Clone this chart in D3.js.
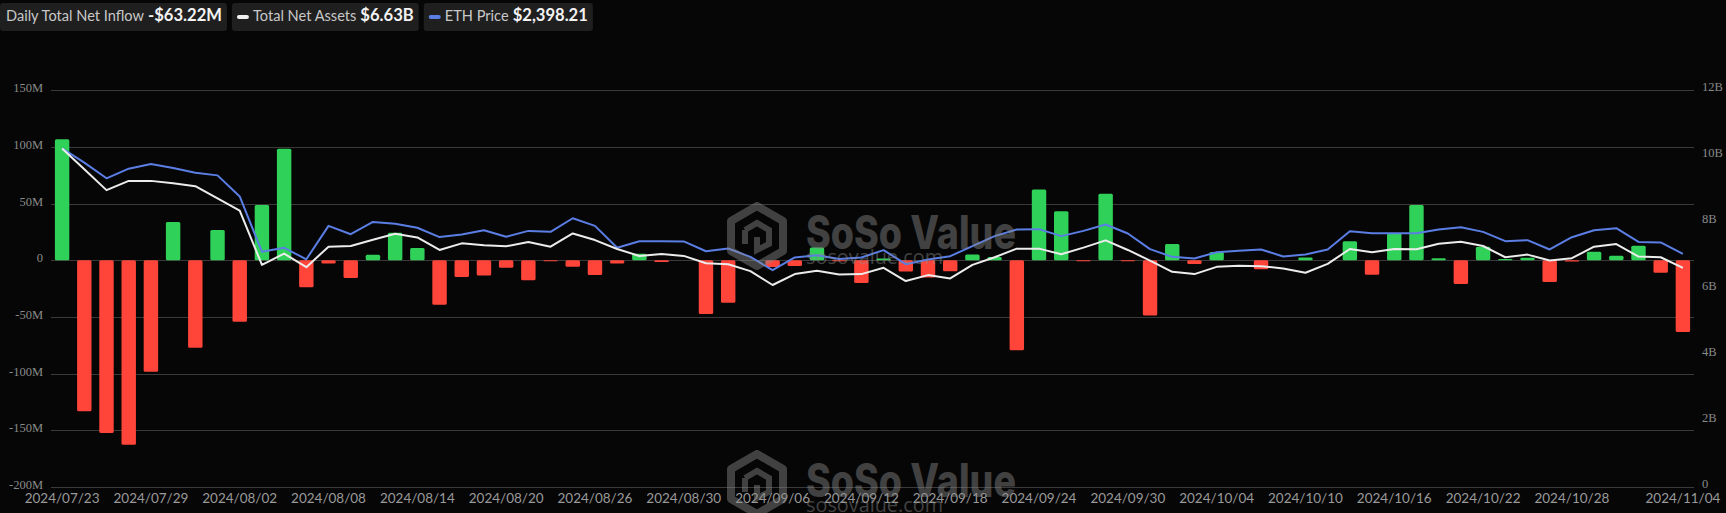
<!DOCTYPE html>
<html><head><meta charset="utf-8">
<script src="https://cdn.jsdelivr.net/npm/d3@7"></script>
<style>
html,body{margin:0;padding:0;background:#060606;}
svg{display:block;}
</style></head>
<body><svg id="chart" width="1726" height="513"></svg>
<script>
const dates = ["2024/07/23","2024/07/24","2024/07/25","2024/07/26","2024/07/29","2024/07/30","2024/07/31","2024/08/01","2024/08/02",
"2024/08/05","2024/08/06","2024/08/07","2024/08/08","2024/08/09",
"2024/08/12","2024/08/13","2024/08/14","2024/08/15","2024/08/16",
"2024/08/19","2024/08/20","2024/08/21","2024/08/22","2024/08/23",
"2024/08/26","2024/08/27","2024/08/28","2024/08/29","2024/08/30",
"2024/09/03","2024/09/04","2024/09/05","2024/09/06",
"2024/09/09","2024/09/10","2024/09/11","2024/09/12","2024/09/13",
"2024/09/16","2024/09/17","2024/09/18","2024/09/19","2024/09/20",
"2024/09/23","2024/09/24","2024/09/25","2024/09/26","2024/09/27",
"2024/09/30","2024/10/01","2024/10/02","2024/10/03","2024/10/04",
"2024/10/07","2024/10/08","2024/10/09","2024/10/10","2024/10/11",
"2024/10/14","2024/10/15","2024/10/16","2024/10/17","2024/10/18",
"2024/10/21","2024/10/22","2024/10/23","2024/10/24","2024/10/25",
"2024/10/28","2024/10/29","2024/10/30","2024/10/31","2024/11/01",
"2024/11/04"];

// Daily total net inflow, $M
const netInflow = [106.78,-133.2,-152.3,-162.7,-98.3,33.7,-77.2,26.7,-54.3,
48.8,98.4,-23.7,-2.9,-15.7,
4.9,24.3,10.8,-39.2,-14.7,
-13.5,-6.5,-17.6,-0.9,-5.6,
-13.0,-2.9,5.9,-1.5,0,
-47.4,-37.5,0,-5.9,
-5.0,11.4,-0.9,-20.1,1.5,
-9.8,-15.1,-9.6,5.2,2.9,
-79.3,62.5,43.2,-0.9,58.7,
-0.9,-48.6,14.5,-3.2,7.4,
0,-7.9,0,2.5,0,
16.9,-12.7,24.2,48.8,1.8,
-20.8,11.9,1.2,2.3,-19.2,
-1.1,7.6,4.1,12.9,-10.9,
-63.22];

// Total net assets, $B
const totalNetAssets = [10.24,9.61,8.98,9.26,9.26,9.19,9.10,8.73,8.36,
6.72,7.06,6.65,7.27,7.29,
7.48,7.66,7.55,7.17,7.37,
7.31,7.28,7.41,7.27,7.67,
7.47,7.20,6.99,7.05,6.99,
6.77,6.74,6.53,6.11,
6.44,6.54,6.43,6.44,6.63,
6.23,6.41,6.31,6.72,6.95,
7.21,7.21,7.04,7.24,7.46,
7.17,6.85,6.51,6.44,6.66,
6.69,6.68,6.61,6.48,6.75,
7.20,7.10,7.20,7.19,7.36,
7.42,7.29,6.95,7.03,6.85,
6.92,7.27,7.35,6.97,6.95,
6.63];

// ETH price, $
const ethPrice = [3482,3336,3175,3274,3321,3280,3232,3205,2988,
2420,2460,2342,2686,2600,
2726,2708,2666,2570,2597,
2641,2573,2634,2624,2764,
2686,2460,2528,2528,2526,
2425,2453,2367,2230,
2361,2384,2346,2361,2436,
2292,2340,2374,2477,2580,
2648,2652,2580,2634,2700,
2607,2446,2367,2350,2415,
2429,2443,2371,2392,2443,
2631,2610,2610,2610,2648,
2672,2624,2528,2539,2443,
2569,2641,2662,2521,2515,
2398.21];

const leftTicks = [-200,-150,-100,-50,0,50,100,150];
const leftTickLabels = ["-200M","-150M","-100M","-50M","0","50M","100M","150M"];
const rightTicks = [0,2,4,6,8,10,12];
const rightTickLabels = ["0","2B","4B","6B","8B","10B","12B"];

const legendItems = [
  {label:"Daily Total Net Inflow", value:"-$63.22M", marker:null},
  {label:"Total Net Assets", value:"$6.63B", marker:"#f0f0f0"},
  {label:"ETH Price", value:"$2,398.21", marker:"#5b7ee5"}
];

const svg = d3.select("#chart");
const W = 1726, H = 513;
const plotL = 51, plotR = 1694, plotT = 90.3, plotB = 487;

const x = d3.scaleBand().domain(d3.range(dates.length)).range([plotL, plotR]).paddingInner(0.35).paddingOuter(0.175);
const xc = i => x(i) + x.bandwidth()/2;
const yL = d3.scaleLinear().domain([-200,150]).range([plotB, plotT]);
const yR = d3.scaleLinear().domain([0,12]).range([plotB, plotT]);
const yP = d3.scaleLinear().domain([0,4080]).range([plotB, plotT]);

svg.append("rect").attr("width",W).attr("height",H).attr("fill","#060606");

// gridlines
svg.append("g").selectAll("line").data(leftTicks).join("line")
  .attr("x1",plotL).attr("x2",plotR)
  .attr("y1",d=>Math.round(yL(d))+0.5).attr("y2",d=>Math.round(yL(d))+0.5)
  .attr("stroke","#3a3a3a").attr("stroke-width",1);

// left axis labels
svg.append("g").selectAll("text").data(leftTicks).join("text")
  .attr("x",43).attr("y",d=>yL(d)-1)
  .attr("text-anchor","end").attr("dominant-baseline","middle")
  .attr("font-family","Liberation Serif, serif").attr("font-size",12.5)
  .attr("fill","#8a8a8a").text((d,i)=>leftTickLabels[i]);

// right axis labels
svg.append("g").selectAll("text").data(rightTicks).join("text")
  .attr("x",1702).attr("y",d=>yR(d)-2)
  .attr("text-anchor","start").attr("dominant-baseline","middle")
  .attr("font-family","Liberation Serif, serif").attr("font-size",12.5)
  .attr("fill","#8a8a8a").text((d,i)=>rightTickLabels[i]);

// x labels
const xLabelIdx = d3.range(0, dates.length, 4).filter(i => i !== 72).concat([dates.length-1]);
svg.append("g").selectAll("text").data(xLabelIdx).join("text")
  .attr("x",i=>xc(i)).attr("y",500)
  .attr("text-anchor","middle").attr("dominant-baseline","middle")
  .attr("font-family","Lato, sans-serif").attr("font-size",13.5)
  .attr("fill","#9a9a9a").text(i=>dates[i]);

// bars
svg.append("g").selectAll("rect").data(netInflow).join("rect")
  .attr("x",(d,i)=>x(i)).attr("width",x.bandwidth())
  .attr("y",d=>d>=0?yL(d):yL(0))
  .attr("height",d=>Math.abs(yL(d)-yL(0)))
  .attr("rx",1.5)
  .attr("fill",d=>d>=0?"#30d158":"#ff453a");

// lines
const lineNA = d3.line().x((d,i)=>xc(i)).y(d=>yR(d));
const lineP = d3.line().x((d,i)=>xc(i)).y(d=>yP(d));
svg.append("path").datum(ethPrice).attr("d",lineP)
  .attr("fill","none").attr("stroke","#5b7ee5").attr("stroke-width",2).attr("stroke-linejoin","round");
svg.append("path").datum(totalNetAssets).attr("d",lineNA)
  .attr("fill","none").attr("stroke","#ececec").attr("stroke-width",2).attr("stroke-linejoin","round");

// watermarks
function watermark(dy){
  const g = svg.append("g").attr("transform",`translate(0,${dy})`).attr("opacity",0.45);
  const cx = 757, cy = 236, r = 30;
  const hex = d3.range(6).map(k=>{const a = Math.PI/6 + k*Math.PI/3; return [cx+r*Math.cos(a), cy+r*Math.sin(a)];});
  g.append("polygon").attr("points",hex.map(p=>p.join(",")).join(" "))
    .attr("fill","none").attr("stroke","#8a8a8a").attr("stroke-width",8).attr("stroke-linejoin","round");
  g.append("path").attr("d",`M${cx-12},${cy-6} L${cx},${cy-13} L${cx+12},${cy-6} L${cx+12},${cy+8} L${cx},${cy+14} L${cx},${cy+1} M${cx-12},${cy-6} L${cx-12},${cy+8}`)
    .attr("fill","none").attr("stroke","#8a8a8a").attr("stroke-width",6);
  g.append("text").attr("x",806).attr("y",249).attr("font-family","Inter, Open Sans, sans-serif")
    .attr("font-weight",800).attr("font-size",46).attr("fill","#8a8a8a")
    .attr("textLength",210).attr("lengthAdjust","spacingAndGlyphs").text("SoSo Value");
  g.append("text").attr("x",806).attr("y",264).attr("font-family","Open Sans, sans-serif")
    .attr("font-size",20).attr("fill","#8a8a8a")
    .attr("textLength",137).attr("lengthAdjust","spacingAndGlyphs").text("sosovalue.com");
}
watermark(0);
watermark(248);

// legend
const lg = svg.append("g");
let lx = 0;
legendItems.forEach(item=>{
  const g = lg.append("g");
  const bg = g.append("rect").attr("x",lx).attr("y",3).attr("height",28).attr("rx",3).attr("fill","#1f1f1f");
  let tx = lx + 6;
  if(item.marker){
    g.append("line").attr("x1",lx+7).attr("x2",lx+15).attr("y1",17).attr("y2",17)
      .attr("stroke",item.marker).attr("stroke-width",4).attr("stroke-linecap","round");
    tx = lx + 21;
  }
  const t1 = g.append("text").attr("x",tx).attr("y",17).attr("dominant-baseline","middle")
    .attr("font-family","Lato, sans-serif").attr("font-size",14.6).attr("fill","#c8c8c8").text(item.label);
  const w1 = t1.node().getComputedTextLength();
  const t2 = g.append("text").attr("x",tx+w1+4).attr("y",17).attr("dominant-baseline","middle")
    .attr("font-family","Lato, sans-serif").attr("font-weight",700).attr("font-size",16.6).attr("fill","#f2f2f2").text(item.value);
  const w2 = t2.node().getComputedTextLength();
  const bw = (tx+w1+4+w2+5) - lx;
  bg.attr("width",bw);
  lx += bw + 5;
});
</script>
</body></html>
